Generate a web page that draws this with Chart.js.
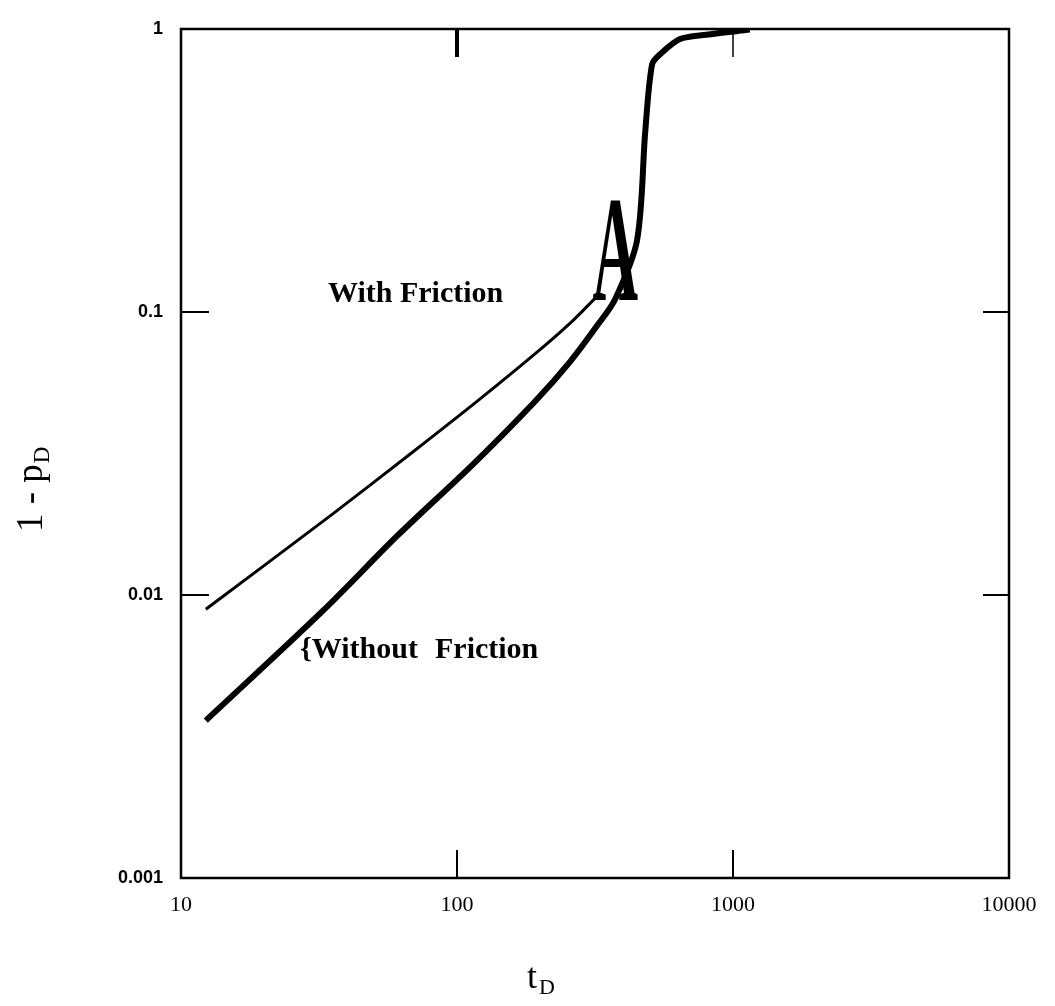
<!DOCTYPE html>
<html>
<head>
<meta charset="utf-8">
<script src="https://cdn.jsdelivr.net/npm/chart.js@4.4.1/dist/chart.umd.min.js"></script>
<style>
    body { margin: 0; background: #fff; }
    canvas { display: block; }
</style>
</head>
<body>
<canvas id="grafico" width="1055" height="1006"></canvas>
<script>
// Ejes logaritmicos
const ticksX = [10, 100, 1000, 10000];
const etiquetasX = ['10', '100', '1000', '10000'];
const ticksY = [0.001, 0.01, 0.1, 1];
const etiquetasY = ['0.001', '0.01', '0.1', '1'];

// Curva con friccion (linea fina)
const tiemposConFriccion = [12.3, 35.1, 69.7, 120, 194, 260, 317];
const valoresConFriccion = [0.0089, 0.0192, 0.0322, 0.0489, 0.0718, 0.0923, 0.112];

// Curva sin friccion (linea gruesa)
const tiemposSinFriccion = [12.3, 32.7, 61.2, 114, 192, 258, 323, 374, 449, 481, 509, 542, 643, 800, 1150];
const valoresSinFriccion = [0.0036, 0.0088, 0.0163, 0.0289, 0.0484, 0.0671, 0.0899, 0.111, 0.179, 0.435, 0.749, 0.811, 0.921, 0.954, 0.995];

function puntos(xs, ys) {
    return xs.map((x, i) => ({ x: x, y: ys[i] }));
}

// Marco, marcas interiores y textos
const marcoPlugin = {
    id: 'marco',
    afterDraw(chart) {
        const ctx = chart.ctx;
        const area = chart.chartArea;
        const sx = chart.scales.x;
        const sy = chart.scales.y;

        ctx.save();
        ctx.strokeStyle = '#000';
        ctx.lineWidth = 2.5;
        ctx.strokeRect(area.left, area.top, area.right - area.left, area.bottom - area.top);

        // marcas hacia adentro
        [100, 1000].forEach(v => {
            const px = sx.getPixelForValue(v);
            ctx.lineWidth = 2;
            ctx.beginPath();
            ctx.moveTo(px, area.bottom);
            ctx.lineTo(px, area.bottom - 28);
            ctx.stroke();
            ctx.lineWidth = v === 100 ? 4 : 1.5;
            ctx.beginPath();
            ctx.moveTo(px, area.top);
            ctx.lineTo(px, area.top + 28);
            ctx.stroke();
        });
        [0.01, 0.1].forEach(v => {
            const py = sy.getPixelForValue(v);
            ctx.lineWidth = 2;
            ctx.beginPath();
            ctx.moveTo(area.left, py);
            ctx.lineTo(area.left + 28, py);
            ctx.moveTo(area.right, py);
            ctx.lineTo(area.right - 26, py);
            ctx.stroke();
        });

        // textos de las curvas
        ctx.fillStyle = '#000';
        ctx.textBaseline = 'alphabetic';
        ctx.textAlign = 'left';
        ctx.font = 'bold 30px "Liberation Serif"';
        ctx.fillText('With Friction', 328, 302);
        ctx.fillText('{Without', 300, 658);
        ctx.fillText('Friction', 435, 658);

        // la letra A grande, estirada para ocupar 45 x 100 px
        ctx.save();
        ctx.font = 'bold 160px "Liberation Serif"';
        const m = ctx.measureText('A');
        const anchoA = m.actualBoundingBoxLeft + m.actualBoundingBoxRight;
        const altoA = m.actualBoundingBoxAscent + m.actualBoundingBoxDescent;
        const ex = 45 / anchoA;
        const ey = 100 / altoA;
        ctx.translate(593 + m.actualBoundingBoxLeft * ex, 300 - m.actualBoundingBoxDescent * ey);
        ctx.scale(ex, ey);
        ctx.fillText('A', 0, 0);
        ctx.restore();

        // titulo eje x
        ctx.font = '36px "Liberation Serif"';
        ctx.fillText('t', 527, 988);
        let w = ctx.measureText('t').width;
        ctx.font = '22px "Liberation Serif"';
        ctx.fillText('D', 527 + w + 2, 994);

        // titulo eje y
        ctx.save();
        ctx.translate(42, 532);
        ctx.rotate(-Math.PI / 2);
        ctx.font = '37px "Liberation Serif"';
        ctx.fillText('1 - p', 0, 0);
        w = ctx.measureText('1 - p').width;
        ctx.font = '23px "Liberation Serif"';
        ctx.fillText('D', w + 1, 7);
        ctx.restore();

        ctx.restore();
    }
};

function generarGrafico() {
    const ctx = document.getElementById('grafico').getContext('2d');
    new Chart(ctx, {
        type: 'scatter',
        data: {
            datasets: [{
                label: 'With Friction',
                data: puntos(tiemposConFriccion, valoresConFriccion),
                showLine: true,
                borderColor: '#000',
                borderWidth: 3,
                pointRadius: 0,
                tension: 0.3
            }, {
                label: 'Without Friction',
                data: puntos(tiemposSinFriccion, valoresSinFriccion),
                showLine: true,
                borderColor: '#000',
                borderWidth: 6,
                pointRadius: 0,
                tension: 0.3
            }]
        },
        options: {
            responsive: false,
            animation: false,
            layout: { padding: { left: 0, right: 46, top: 29, bottom: 88 } },
            plugins: {
                legend: { display: false },
                tooltip: { enabled: false }
            },
            scales: {
                x: {
                    type: 'logarithmic',
                    min: 10,
                    max: 10000,
                    afterBuildTicks: s => { s.ticks = ticksX.map(v => ({ value: v })); },
                    afterFit: s => { s.height = 40; },
                    grid: { display: false, drawTicks: false },
                    border: { display: false },
                    ticks: {
                        callback: (v, i) => etiquetasX[i],
                        font: { family: 'Liberation Serif', size: 22 },
                        color: '#000',
                        padding: 14,
                        maxRotation: 0,
                        autoSkip: false
                    }
                },
                y: {
                    type: 'logarithmic',
                    min: 0.001,
                    max: 1,
                    afterBuildTicks: s => { s.ticks = ticksY.map(v => ({ value: v })); },
                    afterFit: s => { s.width = 181; },
                    grid: { display: false, drawTicks: false },
                    border: { display: false },
                    ticks: {
                        callback: (v, i) => etiquetasY[i],
                        font: { family: 'Liberation Sans', size: 18, weight: 'bold' },
                        color: '#000',
                        padding: 18,
                        autoSkip: false
                    }
                }
            }
        },
        plugins: [marcoPlugin]
    });
}

window.onload = generarGrafico;
</script>
</body>
</html>
